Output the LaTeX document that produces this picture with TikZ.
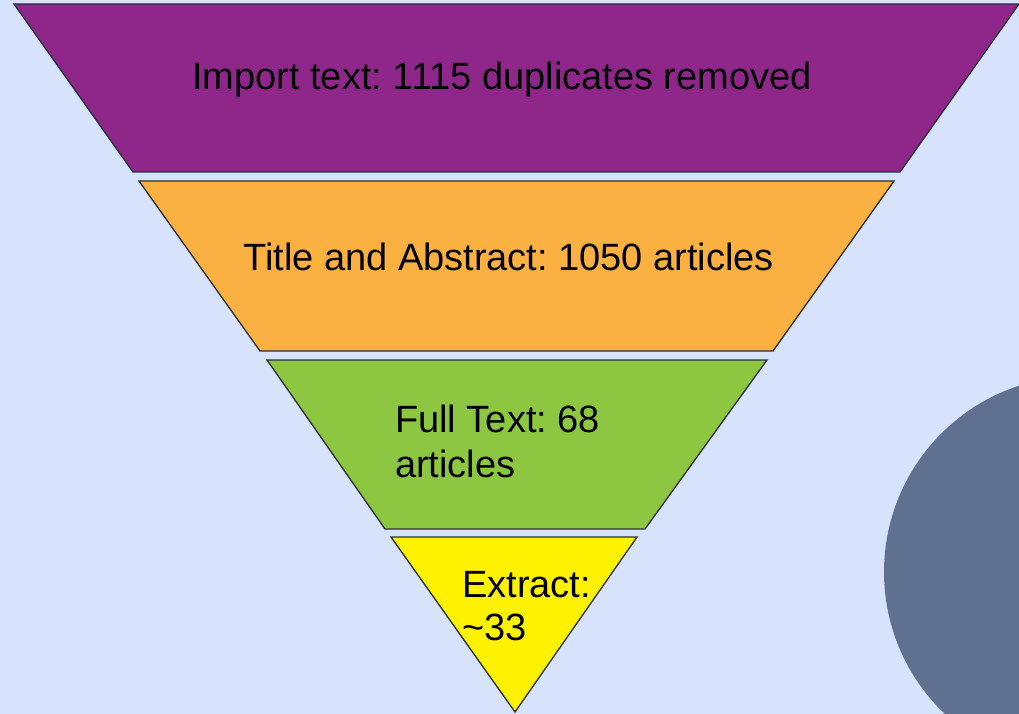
\documentclass[tikz,border=0pt]{standalone}
\usepackage{fontspec}
\setmainfont{Liberation Sans}
\frenchspacing
\definecolor{bgblue}{HTML}{D7E3FC}
\definecolor{fpurple}{HTML}{8F278B}
\definecolor{forange}{HTML}{FBB042}
\definecolor{fgreen}{HTML}{8DC641}
\definecolor{fyellow}{HTML}{FFF200}
\definecolor{fcircle}{HTML}{5F7090}
\definecolor{edgec}{HTML}{2A2E3A}
\tikzset{
  layer/.style={draw=edgec, line width=1.3pt, line join=miter},
  label/.style={anchor=base west, inner sep=0pt, font=\fontsize{38}{45}\selectfont\frenchspacing, text=black, align=left}
}
\begin{document}
\begin{tikzpicture}[x=1pt,y=-1pt]
\useasboundingbox (0,0) rectangle (1019,714);
\fill[bgblue] (0,0) rectangle (1019,714);
\begin{scope}
\clip (0,0) rectangle (1019,714);
\fill[fcircle] (1080,572) circle[radius=196];
\end{scope}
% funnel layers
\path[layer, fill=fpurple] (14,4) -- (1019,4) -- (900,172) -- (133,172) -- cycle;
\path[layer, fill=forange] (139,181) -- (894,181) -- (773,351) -- (260,351) -- cycle;
\path[layer, fill=fgreen] (267,360) -- (767,360) -- (645,529) -- (385,529) -- cycle;
\path[layer, fill=fyellow] (391,537) -- (637,537) -- (515,712) -- cycle;
% labels
\node[label] (t1) at (192,90) {Import text: 1115 duplicates removed};
\node[label] (t2) at (243,270) {Title and Abstract: 1050 articles};
\node[label] (t3a) at (395,432) {Full Text: 68};
\node[label] (t3b) at (395,477) {articles};
\node[label] (t4a) at (462,597) {Extract:};
\node[label] (t4b) at (462,640) {\textasciitilde 33};
\end{tikzpicture}
\end{document}
